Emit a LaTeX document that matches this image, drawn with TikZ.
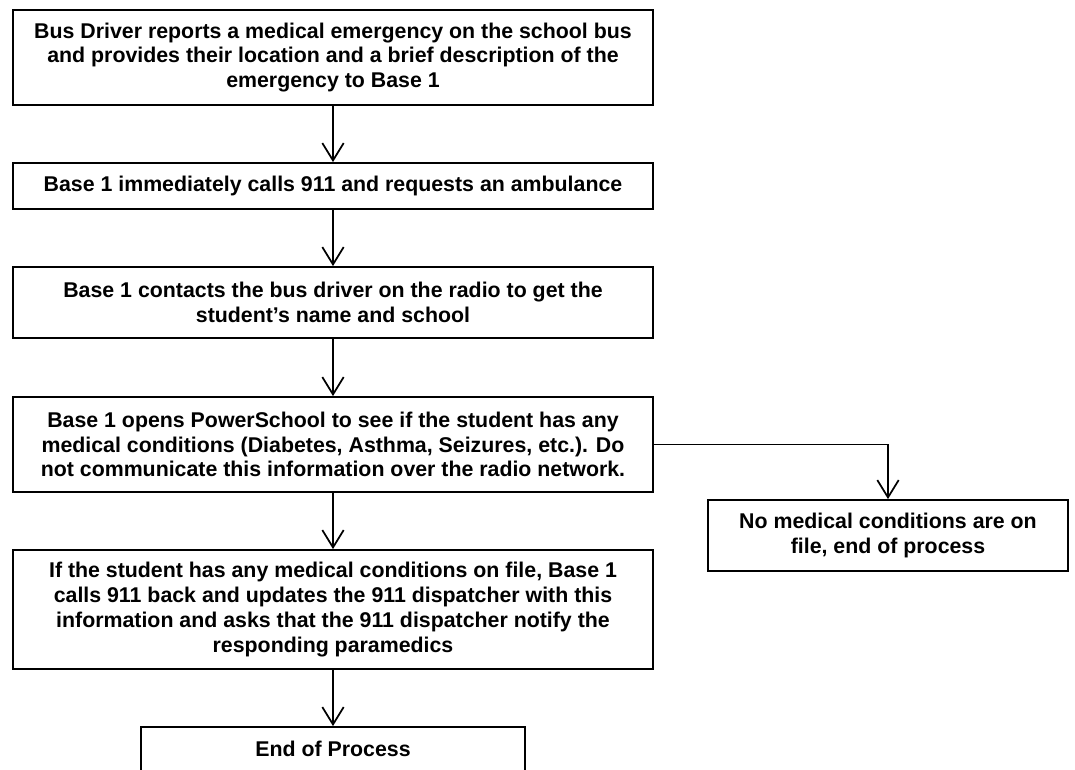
\documentclass[tikz,border=0pt]{standalone}
\usepackage{fontspec}
\setmainfont{Liberation Sans}
\usetikzlibrary{arrows.meta}
\tikzset{
  stepbox/.style={draw=black, line width=1.4pt, fill=white, inner sep=0pt, align=center,
    font=\fontsize{16pt}{18.6pt}\selectfont\bfseries, text=black},
  arr/.style={draw=black, line width=1.3pt, -{Straight Barb[length=13pt,width=16pt,line width=1.3pt]}},
}
\begin{document}
\begin{tikzpicture}[x=0.75pt,y=-0.75pt]
\useasboundingbox (0,0) rectangle (1075,769);
\begin{scope}
\clip (0,0) rectangle (1075,769);
\node[stepbox, minimum width=480pt, minimum height=71.25pt] (b1) at (333,57.5)
  {Bus Driver reports a medical emergency on the school bus\\and provides their location and a brief description of the\\emergency to Base 1};
\node[stepbox, minimum width=480pt, minimum height=34.5pt] (b2) at (333,186)
  {Base 1 immediately calls 911 and requests an ambulance};
\node[stepbox, minimum width=480pt, minimum height=53.25pt] (b3) at (333,302.5)
  {Base 1 contacts the bus driver on the radio to get the\\student’s name and school};
\node[stepbox, minimum width=480pt, minimum height=71.25pt] (b4) at (333,444.5)
  {Base 1 opens PowerSchool to see if the student has any\\medical conditions (Diabetes, Asthma, Seizures, etc.). Do\\not communicate this information over the radio network.};
\node[stepbox, minimum width=270pt, minimum height=53.25pt] (b5) at (888,535.5)
  {No medical conditions are on\\file, end of process};
\node[stepbox, minimum width=480pt, minimum height=89.25pt] (b6) at (333,609.5)
  {If the student has any medical conditions on file, Base 1\\calls 911 back and updates the 911 dispatcher with this\\information and asks that the 911 dispatcher notify the\\responding paramedics};
\node[stepbox, minimum width=288pt, minimum height=33pt] (b7) at (333,749)
  {End of Process};
\draw[arr] (b1) -- (b2);
\draw[arr] (b2) -- (b3);
\draw[arr] (b3) -- (b4);
\draw[arr] (b4) -- (b6);
\draw[arr] (b6) -- (b7);
\draw[arr] (b4.east) -| (b5.north);
\end{scope}
\end{tikzpicture}
\end{document}
